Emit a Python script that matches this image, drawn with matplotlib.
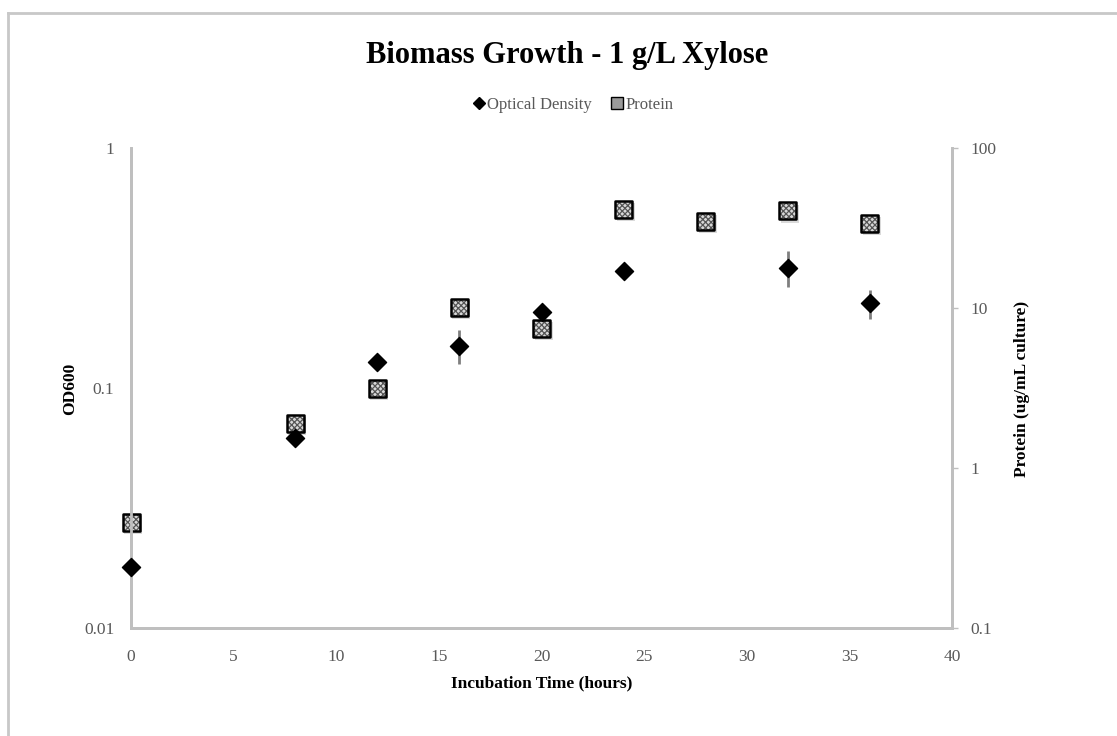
import numpy as np
import matplotlib
matplotlib.use("Agg")
import matplotlib.pyplot as plt
from matplotlib.lines import Line2D

plt.rcParams['font.family'] = ['Liberation Serif', 'DejaVu Serif']
plt.rcParams['hatch.linewidth'] = 0.9

# sampling times (hours)
hours = [0, 8, 12, 16, 20, 24, 28, 32, 36]
# OD600 readings and standard deviations (no OD reading at 28 h)
od_hours = [0, 8, 12, 16, 20, 24, 32, 36]
od600 = [0.0181, 0.062, 0.129, 0.151, 0.208, 0.309, 0.319, 0.226]
od_err = [0.0, 0.0, 0.0, 0.024, 0.0, 0.0, 0.055, 0.031]
# protein concentration (ug/mL culture)
protein = [0.46, 1.91, 3.16, 10.2, 7.5, 41.6, 35.0, 40.7, 34.1]

x_ticks = [0, 5, 10, 15, 20, 25, 30, 35, 40]
od_ticks = [0.01, 0.1, 1]
od_tick_labels = ['0.01', '0.1', '1']
prot_ticks = [0.1, 1, 10, 100]
prot_tick_labels = ['0.1', '1', '10', '100']

grey_axis = '#bfbfbf'
grey_text = '#595959'

fig = plt.figure(figsize=(11.17, 7.36), dpi=100)
ax = fig.add_axes([0.1173, 0.1461, 0.735, 0.6522])
ax2 = ax.twinx()

# protein squares on the right-hand axis (faint shadow, then hatched square)
ax2.scatter([h + 0.1 for h in hours], [p * 0.96 for p in protein], marker='s', s=165,
            color='#dadada', linewidth=0, zorder=2, clip_on=False)
ax2.scatter(hours, protein, marker='s', s=150, facecolor='#d8d8d8',
            edgecolor='#555555', linewidth=0, hatch='xxxxxx', zorder=3, clip_on=False)
ax2.scatter(hours, protein, marker='s', s=150, facecolor='none',
            edgecolor='black', linewidth=1.8, zorder=4, clip_on=False)

# optical density diamonds with error bars on the left-hand axis
ax.errorbar(od_hours, od600, yerr=od_err, fmt='none', ecolor='#7f7f7f',
            elinewidth=2, capsize=0, zorder=2)
ax.scatter(od_hours, od600, marker='D', s=85, color='black', zorder=3, clip_on=False)

ax.set_zorder(ax2.get_zorder() + 1)
ax.patch.set_visible(False)

ax.set_xlim(0, 40)
ax.set_xticks(x_ticks)
ax.set_yscale('log')
ax.set_ylim(0.01, 1)
ax.set_yticks(od_ticks)
ax.set_yticklabels(od_tick_labels)
ax.yaxis.set_minor_locator(matplotlib.ticker.NullLocator())

ax2.set_yscale('log')
ax2.set_ylim(0.1, 100)
ax2.set_yticks(prot_ticks)
ax2.set_yticklabels(prot_tick_labels)
ax2.yaxis.set_minor_locator(matplotlib.ticker.NullLocator())

for a in (ax, ax2):
    a.spines['top'].set_visible(False)
    for side in ('left', 'right', 'bottom'):
        a.spines[side].set_color(grey_axis)
        a.spines[side].set_linewidth(2)
    a.tick_params(labelsize=12.5, labelcolor=grey_text, color=grey_axis)

ax.tick_params(axis='x', length=0, pad=15)
ax.tick_params(axis='y', length=0, pad=12)
ax2.tick_params(axis='y', length=4, width=1, pad=9)

ax.set_xlabel('Incubation Time (hours)', fontsize=12.5, fontweight='bold', labelpad=7)
ax.set_ylabel('OD600', fontsize=12.5, fontweight='bold', labelpad=4)
ax2.set_ylabel('Protein (ug/mL culture)', fontsize=12.5, fontweight='bold', labelpad=13)

fig.text(0.508, 0.925, 'Biomass Growth - 1 g/L Xylose', ha='center', va='center',
         fontsize=22, fontweight='bold')

handles = [
    Line2D([], [], marker='D', color='black', linestyle='none', markersize=6),
    Line2D([], [], marker='s', markerfacecolor='#9a9a9a', markeredgecolor='black',
           linestyle='none', markersize=8),
]
fig.legend(handles, ['Optical Density', 'Protein'], loc='center',
           bbox_to_anchor=(0.512, 0.858), ncol=2, frameon=False, fontsize=12,
           handletextpad=0.0, columnspacing=1.0, handlelength=1.0,
           labelcolor=grey_text)

# light grey border around the chart area
fig.add_artist(Line2D([8 / 1117, 8 / 1117], [0, 1 - 13 / 736], color='#c8c8c8',
                      linewidth=2, transform=fig.transFigure))
fig.add_artist(Line2D([8 / 1117, 1], [1 - 13 / 736, 1 - 13 / 736], color='#c8c8c8',
                      linewidth=2, transform=fig.transFigure))

fig.savefig('out.png', dpi=100)
